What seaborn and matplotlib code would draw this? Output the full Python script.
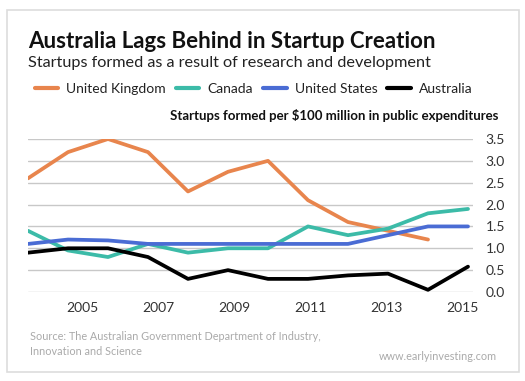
import matplotlib
matplotlib.use("Agg")
import matplotlib.pyplot as plt
from matplotlib.patches import Rectangle
from matplotlib.lines import Line2D
import seaborn as sns
import pandas as pd

years = list(range(2004, 2016))
uk = [2.6, 3.2, 3.5, 3.2, 2.3, 2.75, 3.0, 2.1, 1.6, 1.4, 1.2, None]
canada = [1.4, 0.95, 0.8, 1.1, 0.9, 1.0, 1.0, 1.5, 1.3, 1.45, 1.8, 1.9]
us = [1.1, 1.2, 1.18, 1.1, 1.1, 1.1, 1.1, 1.1, 1.1, 1.3, 1.5, 1.5]
australia = [0.9, 1.0, 1.0, 0.8, 0.3, 0.5, 0.3, 0.3, 0.38, 0.42, 0.05, 0.58]
countries = ["United Kingdom", "Canada", "United States", "Australia"]
colors = ["#E8854D", "#3CBBA8", "#4A6CD4", "#000000"]
xtick_labels = ["2005", "2007", "2009", "2011", "2013", "2015"]
ytick_values = [0.0, 0.5, 1.0, 1.5, 2.0, 2.5, 3.0, 3.5]

rows = []
for name, vals in zip(countries, [uk, canada, us, australia]):
    for y, v in zip(years, vals):
        if v is not None:
            rows.append({"Year": y, "Value": v, "Country": name})
df = pd.DataFrame(rows)

sns.set_style("white")
plt.rcParams["font.family"] = ["Lato", "DejaVu Sans"]

fig = plt.figure(figsize=(5.25, 3.81), dpi=100)
fig.patch.set_facecolor("white")
fig.patches.append(Rectangle((7 / 525, 1 - 372 / 381), 512 / 525, 362 / 381,
                             transform=fig.transFigure, fill=False,
                             edgecolor="#DDDDDD", linewidth=1.2))

ax = fig.add_axes([28 / 525, 1 - 292 / 381, 445 / 525, 153 / 381])
sns.lineplot(data=df, x="Year", y="Value", hue="Country", hue_order=countries,
             palette=colors, linewidth=2.7, ax=ax, legend=False)
ax.set_xlim(2004, 2015.125)
ax.set_ylim(0, 3.5)
ax.set_yticks(ytick_values)
ax.set_yticklabels([f"{v:.1f}" for v in ytick_values], fontsize=10, color="#333333")
ax.yaxis.tick_right()
ax.tick_params(axis="y", length=0, pad=9)
xpos = [2004 + 1.35 + 1.9 * i for i in range(len(xtick_labels))]
ax.set_xticks(xpos)
ax.set_xticklabels(xtick_labels, fontsize=10, color="#333333")
ax.tick_params(axis="x", length=0, pad=7)
ax.grid(axis="y", color="#C8C8C8", linewidth=1)
ax.grid(axis="x", visible=False)
for s in ax.spines.values():
    s.set_visible(False)
ax.set_xlabel("")
ax.set_ylabel("")
ax.set_axisbelow(True)

fig.text(28 / 525, 1 - 41 / 381, "Australia Lags Behind in Startup Creation",
         fontsize=16, fontweight="bold", color="#111111", va="center", ha="left")
fig.text(28 / 525, 1 - 63 / 381, "Startups formed as a result of research and development",
         fontsize=11.7, color="#222222", va="center", ha="left")
fig.text(498 / 525, 1 - 116 / 381, "Startups formed per $100 million in public expenditures",
         fontsize=9.5, fontweight="bold", color="#111111", va="center", ha="right")

handles = [Line2D([0], [0], color=c, linewidth=3) for c in colors]
fig.legend(handles, countries, loc="center left", bbox_to_anchor=(22 / 525, 1 - 89 / 381),
           ncol=4, frameon=False, fontsize=10, handlelength=1.7, handletextpad=0.6,
           columnspacing=0.7, labelcolor="#222222")

fig.text(30 / 525, 1 - 344 / 381, "Source: The Australian Government Department of Industry,\nInnovation and Science",
         fontsize=7.8, color="#AAAAAA", va="center", ha="left", linespacing=1.5)
fig.text(497 / 525, 1 - 356 / 381, "www.earlyinvesting.com",
         fontsize=7.8, color="#AAAAAA", va="center", ha="right")

fig.savefig("out.png", dpi=100)
